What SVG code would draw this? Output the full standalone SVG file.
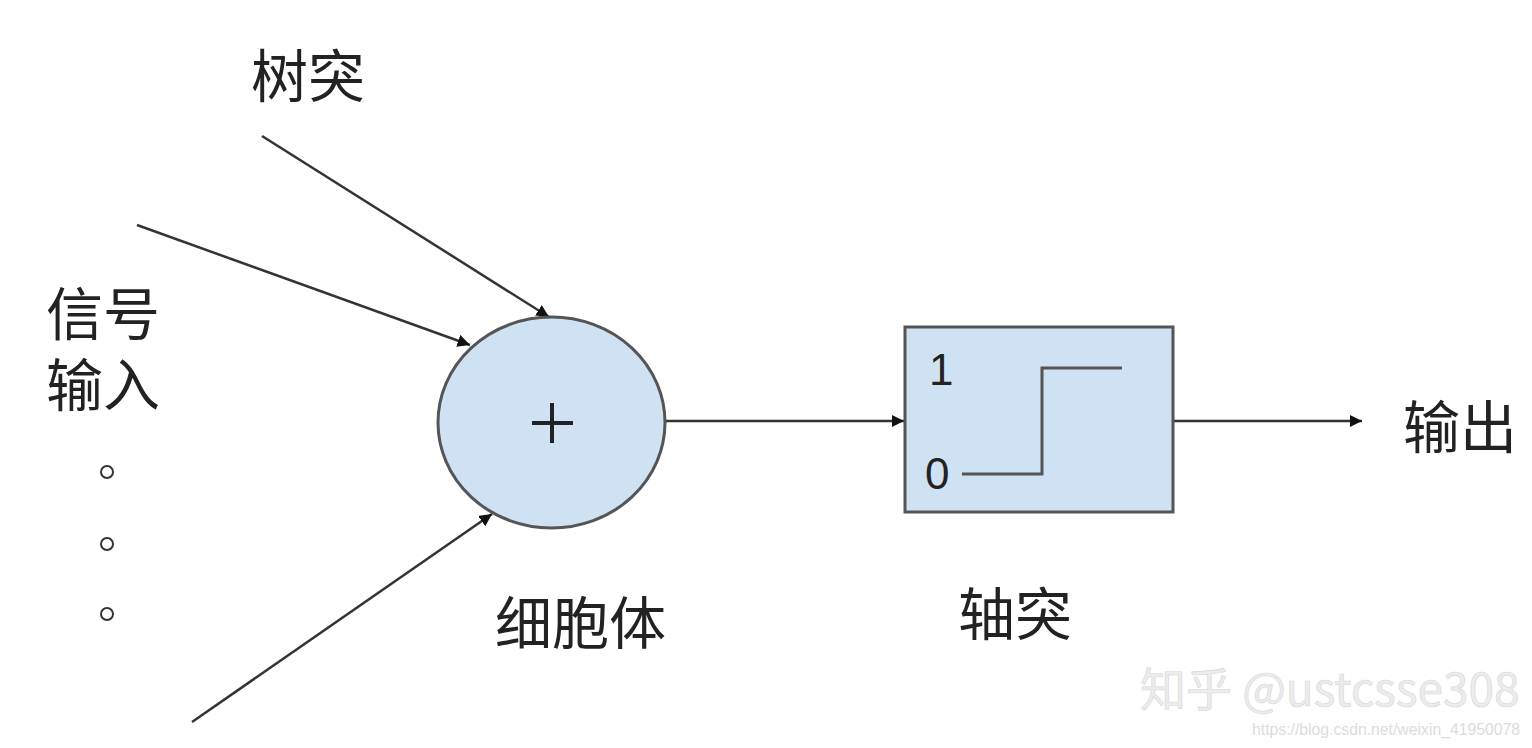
<svg xmlns="http://www.w3.org/2000/svg" width="1532" height="748" viewBox="0 0 1532 748">
<style>
.lbl{font-family:"Noto Sans CJK SC","Liberation Sans",sans-serif;font-size:57px;fill:#222}
.num{font-family:"Liberation Sans",sans-serif;font-size:44px;fill:#222}
.conn{stroke:#333;stroke-width:2.5;fill:none}
.shape{fill:#cfe2f3;stroke:#555;stroke-width:3}
</style>
<defs>
<marker id="ah" viewBox="0 0 10 10" refX="10" refY="5" markerWidth="5" markerHeight="5" orient="auto" markerUnits="strokeWidth">
<path d="M0,0 L10,5 L0,10 Z" fill="#111"/>
</marker>
</defs>
<rect width="1532" height="748" fill="#fff"/>
<g id="connectors">
<line class="conn" x1="262" y1="136" x2="549" y2="317" marker-end="url(#ah)"/>
<line class="conn" x1="137" y1="225" x2="470" y2="345" marker-end="url(#ah)"/>
<line class="conn" x1="192" y1="722" x2="492" y2="514" marker-end="url(#ah)"/>
<line class="conn" x1="665" y1="421" x2="904" y2="421" marker-end="url(#ah)"/>
<line class="conn" x1="1173" y1="421" x2="1362" y2="421" marker-end="url(#ah)"/>
</g>
<g id="soma">
<ellipse class="shape" cx="551.5" cy="422.5" rx="113.5" ry="105.5"/>
<path d="M532,423 H573 M552,403 V443" stroke="#222" stroke-width="4" fill="none"/>
</g>
<g id="axon">
<rect class="shape" x="905" y="327" width="268" height="185"/>
<path d="M962,474 H1042 V368 H1122" stroke="#555" stroke-width="3" fill="none"/>
<text class="num" x="929" y="385">1</text>
<text class="num" x="925" y="489">0</text>
</g>
<g id="labels">
<text class="lbl" x="251" y="97">树突</text>
<text class="lbl"><tspan x="46" y="335">信号</tspan><tspan x="46" y="406">输入</tspan></text>
<circle cx="107" cy="472" r="6" fill="none" stroke="#333" stroke-width="2"/>
<circle cx="107" cy="544" r="6" fill="none" stroke="#333" stroke-width="2"/>
<circle cx="107" cy="614" r="6" fill="none" stroke="#333" stroke-width="2"/>
<text class="lbl" x="495" y="644">细胞体</text>
<text class="lbl" x="958" y="635">轴突</text>
<text class="lbl" x="1403" y="448">输出</text>
</g>
<g id="watermark">
<text x="1140" y="706" font-family="'Noto Sans CJK SC','Liberation Sans',sans-serif" font-size="46" fill="#ececec" stroke="#d8d8d8" stroke-width="0.6">知乎 @ustcsse308</text>
<text x="1252" y="735" font-family="'Liberation Sans',sans-serif" font-size="16" fill="#dcdcdc" textLength="268" lengthAdjust="spacingAndGlyphs">https://blog.csdn.net/weixin_41950078</text>
</g>
</svg>
